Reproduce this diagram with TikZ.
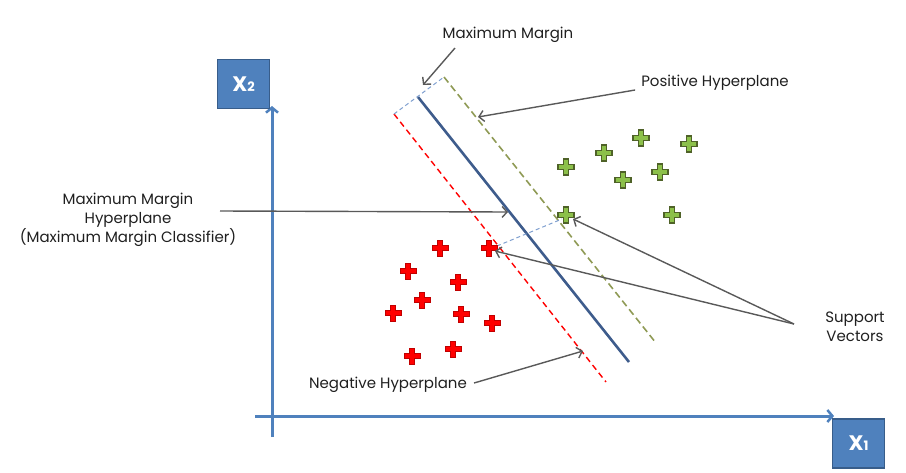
\documentclass[tikz,border=0pt]{standalone}
\usepackage{fontspec}
\setmainfont{Poppins}
\usetikzlibrary{arrows.meta}
\definecolor{axisblue}{HTML}{4F81BD}
\definecolor{boxedge}{HTML}{385D8A}
\definecolor{hyperblue}{HTML}{3E5C8C}
\definecolor{dashblue}{HTML}{7F9FCF}
\definecolor{olive}{HTML}{8F9A55}
\definecolor{gfill}{HTML}{8CC04A}
\definecolor{gedge}{HTML}{4F6228}
\definecolor{rfill}{HTML}{FF0000}
\definecolor{redge}{HTML}{C00000}
\definecolor{arrowgray}{HTML}{595959}
\tikzset{
  axisbox/.style={draw=boxedge, line width=1.5pt, fill=axisblue, minimum width=52pt, minimum height=49pt, inner sep=0pt, text=white, font=\bfseries\fontsize{21}{21}\selectfont},
  axisline/.style={axisblue, line width=3pt, -{Straight Barb[length=5pt,width=12pt,line width=2.5pt]}},
  pointer/.style={arrowgray, line width=1.4pt, -{Straight Barb[length=5pt,width=11pt]}},
  lbl/.style={font=\fontsize{15}{19}\selectfont, text=black!88, inner sep=0pt, align=center},
  plusshape/.pic={\path[pic actions] (-8,-2.7) -- (-2.7,-2.7) -- (-2.7,-8) -- (2.7,-8) -- (2.7,-2.7) -- (8,-2.7) -- (8,2.7) -- (2.7,2.7) -- (2.7,8) -- (-2.7,8) -- (-2.7,2.7) -- (-8,2.7) -- cycle;},
  gplus/.style={draw=gedge, fill=gfill, line width=1.2pt},
  rplus/.style={draw=redge, fill=rfill, line width=0.8pt}
}
\begin{document}
\begin{tikzpicture}[x=1pt,y=-1pt]
\useasboundingbox (0,0) rectangle (906,472);
% axes
\coordinate (yb) at (272,437);
\coordinate (yt) at (272,106);
\coordinate (xl) at (255,416);
\coordinate (xr) at (834,416);
\draw[axisline] (yb) -- (yt);
\draw[axisline] (xl) -- (xr);
\node[axisbox] (x2) at (243.5,84) {X{\fontsize{13}{13}\selectfont 2}};
\node[axisbox] (x1) at (858.5,443.5) {X{\fontsize{13}{13}\selectfont 1}};
% hyperplanes
\coordinate (hs) at (418,97);
\coordinate (he) at (629,362);
\coordinate (ns) at (394,114);
\coordinate (ne) at (606,382);
\coordinate (ps) at (444,77);
\coordinate (pe) at (656,343);
\draw[hyperblue, line width=2.6pt] (hs) -- (he);
\draw[rfill, line width=1.4pt, dash pattern=on 6pt off 4pt] (ns) -- (ne);
\draw[olive, line width=1.6pt, dash pattern=on 7pt off 4pt] (ps) -- (pe);
\draw[dashblue, line width=1pt, dash pattern=on 4pt off 3pt] (ns) -- (ps);
\coordinate (ms1) at (497,246);
\coordinate (ms2) at (562,219);
\draw[dashblue, line width=1pt, dash pattern=on 4pt off 3pt] (ms1) -- (ms2);
% green points
\foreach \p in {(566,167),(604,153),(641,138),(689,144),(660,172),(623,180),(672,215)}
  \pic[gplus] at \p {plusshape};
\pic[gplus] (gs) at (566,215) {plusshape};
% red points
\foreach \p in {(440,248),(408,271),(458,282),(422,300),(393,313),(461,314),(492,323),(453,349),(412,356)}
  \pic[rplus] at \p {plusshape};
\pic[rplus] (rs) at (489,248) {plusshape};
% labels
\node[lbl] (mm) at (508,35) {Maximum Margin};
\node[lbl] (ph) at (715,83) {Positive Hyperplane};
\node[lbl] (mmh) at (128,220) {Maximum Margin\\Hyperplane\\(Maximum Margin Classifier)};
\node[lbl] (sv) at (855,327) {Support\\Vectors};
\node[lbl] (nh) at (388,385) {Negative Hyperplane};
% pointers
\coordinate (mmt) at (423,85);
\coordinate (pht) at (478,117);
\coordinate (mmht) at (508,212);
\coordinate (svt1) at (573,219);
\coordinate (svt2) at (495,251);
\coordinate (nht) at (583,351);
\coordinate (svs) at (794,324);
\draw[pointer] (455,48) -- (mmt);
\draw[pointer] (ph.west) ++(-6,7) -- (pht);
\draw[pointer] (220,211) -- (mmht);
\draw[pointer] (svs) -- (svt1);
\draw[pointer] (svs) -- (svt2);
\draw[pointer] (nh.east) ++(7,-2) -- (nht);
\end{tikzpicture}
\end{document}
